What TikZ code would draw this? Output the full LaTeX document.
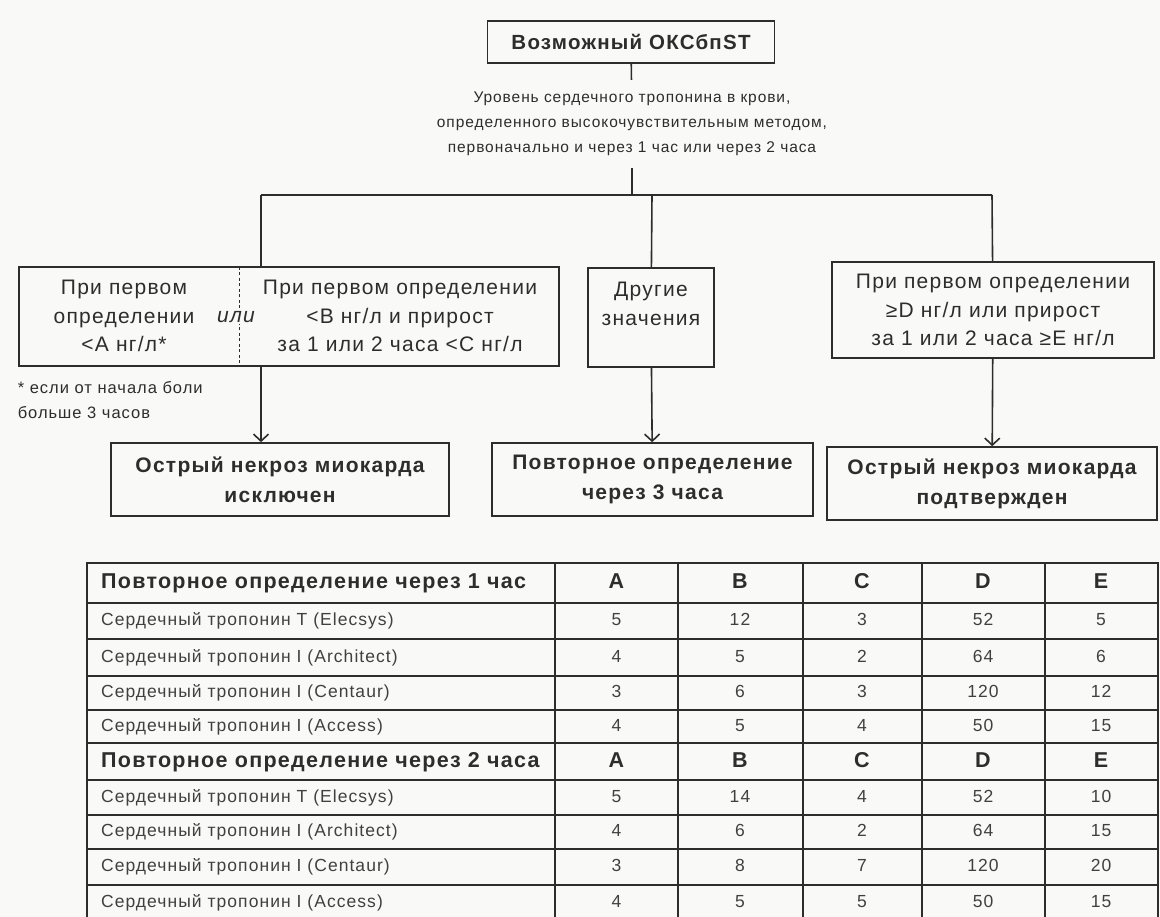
\documentclass[tikz,border=0pt]{standalone}
\usepackage{fontspec}
\setmainfont{Liberation Sans}[LetterSpace=6]
\usetikzlibrary{arrows.meta}
\definecolor{paper}{RGB}{249,249,247}
\definecolor{ink}{RGB}{45,45,45}

\begin{document}
\begin{tikzpicture}[x=1pt,y=-1pt,line width=1.6pt,draw=ink,text=ink,
    box/.style={draw=ink,line width=1.6pt,inner sep=0pt,align=center},
    title/.style={font=\fontsize{20.5}{28}\selectfont\bfseries},
    outcome/.style={font=\fontsize{21}{30}\selectfont\bfseries},
    boxtext/.style={font=\fontsize{21}{28.5}\selectfont,align=center},
    midtext/.style={font=\fontsize{15.5}{25}\selectfont,align=center},
    note/.style={font=\fontsize{16.5}{25}\selectfont,align=left},
    cell/.style={font=\fontsize{17.5}{20}\selectfont,text=black!75,text height=12.5pt,text depth=3.5pt},
    headcell/.style={font=\fontsize{21.5}{24}\selectfont\bfseries,text height=15.5pt,text depth=4.5pt},
    arr/.style={-{Straight Barb[length=7pt,width=15pt,line width=1.6pt]}}]

   \fill[paper] (0,0) rectangle (1160,917);
   \useasboundingbox (0,0) rectangle (1160,917);

   % upper part
   \path (631,42) node[box,title,minimum width=287pt,minimum height=42pt] (start) {Возможный ОКСбпST};
   \path (632,124) node[midtext,inner ysep=11.5pt] (level) {Уровень сердечного тропонина в крови,\\определенного высокочувствительным методом,\\первоначально и через 1 час или через 2 часа};

   \coordinate (split) at (632,195);
   \coordinate (jl) at (261,195);
   \coordinate (jm) at (652,195);
   \coordinate (jr) at (992,195);

   \draw (start) -- (level);
   \draw (level) -- (split);
   \draw (jl) -- (jr);

   % three conditions
   \path (289,316.5) node[box,minimum width=540pt,minimum height=99pt] (low) {};
   \draw[line width=1pt,dash pattern=on 3pt off 2.5pt] (239,267) -- (239,366);
   \path (124,316) node[boxtext] (lowa) {При первом\\определении\\<A нг/л*};
   \path (236,317) node[boxtext,fill=paper,inner sep=1pt,font=\fontsize{21}{28.5}\selectfont\itshape] (orword) {или};
   \path (400,316) node[boxtext] (lowb) {При первом определении\\<B нг/л и прирост\\за 1 или 2 часа <C нг/л};

   \path (651,317.5) node[box,minimum width=126pt,minimum height=99pt] (other) {};
   \path (651,304) node[boxtext] (othertxt) {Другие\\значения};

   \path (993,310) node[box,boxtext,minimum width=322pt,minimum height=96pt] (high) {При первом определении\\≥D нг/л или прирост\\за 1 или 2 часа ≥E нг/л};

   \draw (jl) -- (jl |- low.north);
   \draw (jm) -- (other);
   \draw (jr) -- (high);

   \path (17,400) node[note,anchor=west,inner sep=0pt] (star) {* если от начала боли\\больше 3 часов};

   % outcomes
   \path (280,479.5) node[box,outcome,minimum width=338pt,minimum height=73pt] (excl) {Острый некроз миокарда\\исключен};
   \path (652.5,479.5) node[box,outcome,minimum width=321pt,minimum height=73pt] (again) {Повторное определение\\через 3 часа};
   \path (992,483.5) node[box,outcome,minimum width=330pt,minimum height=73pt] (conf) {Острый некроз миокарда\\подтвержден};

   \draw[arr] (low.south -| jl) -- (excl.north -| jl);
   \draw[arr] (other) -- (again);
   \draw[arr] (high) -- (conf);

   % table
   \foreach \y in {563,603,639,676,710,743,780,815,849,885,921}
      \draw[line cap=rect] (87,\y) -- (1158,\y);
   \foreach \x in {87,555,678,803,922,1045,1158}
      \draw[line cap=rect] (\x,563) -- (\x,921);

   \foreach \y/\hrs [count=\i] in {583/через 1 час,761.5/через 2 часа}{
      \path (97,\y) node[headcell,anchor=west] (head\i) {Повторное определение \hrs};
      \foreach \x/\l in {616.5/A,740/B,862/C,983/D,1101/E}
         \path (\x,\y) node[headcell] (head\i-\l) {\l};
   }

   \foreach \y/\txt/\a/\b/\c/\d/\e [count=\i] in {
      621/{Сердечный тропонин T (Elecsys)}/5/12/3/52/5,
      657.5/{Сердечный тропонин I (Architect)}/4/5/2/64/6,
      693/{Сердечный тропонин I (Centaur)}/3/6/3/120/12,
      726.5/{Сердечный тропонин I (Access)}/4/5/4/50/15,
      797.5/{Сердечный тропонин T (Elecsys)}/5/14/4/52/10,
      832/{Сердечный тропонин I (Architect)}/4/6/2/64/15,
      867/{Сердечный тропонин I (Centaur)}/3/8/7/120/20,
      903/{Сердечный тропонин I (Access)}/4/5/5/50/15}{
      \path (97,\y) node[cell,anchor=west] (row\i) {\txt};
      \path (616.5,\y) node[cell] (row\i-a) {\a};
      \path (740,\y) node[cell] (row\i-b) {\b};
      \path (862,\y) node[cell] (row\i-c) {\c};
      \path (983,\y) node[cell] (row\i-d) {\d};
      \path (1101,\y) node[cell] (row\i-e) {\e};
   }

\end{tikzpicture}
\end{document}
